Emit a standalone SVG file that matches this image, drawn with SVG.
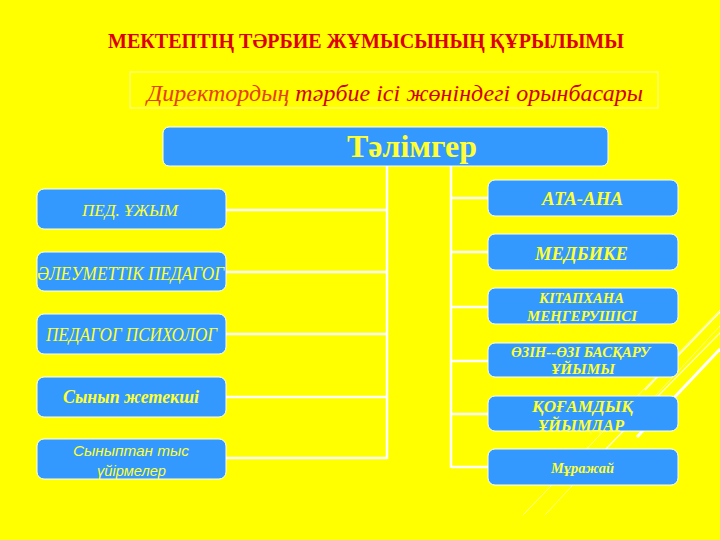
<svg xmlns="http://www.w3.org/2000/svg" width="720" height="540" viewBox="0 0 720 540">
<style>
.box{fill:#3399FF;stroke:#FFFFFF;stroke-width:1}
.t{font-family:"Liberation Serif","Times New Roman",serif;fill:#FFFF33}
.i{font-style:italic}
.b{font-weight:bold}
.s{font-family:"Liberation Sans",Arial,sans-serif;font-style:italic;fill:#FFFF33}
.c{stroke:#FFFFFF;stroke-width:2.5;fill:none}
.d{stroke:#FFFFFF;fill:none}
</style>
<rect x="0" y="0" width="720" height="540" fill="#FFFF00"/>
<g id="decoration">
<line class="d" x1="523" y1="515" x2="720" y2="310" stroke-width="1" opacity="0.6"/>
<line class="d" x1="545" y1="515" x2="720" y2="326" stroke-width="1" opacity="0.5"/>
<line class="d" x1="600" y1="455" x2="720" y2="333" stroke-width="1.2" opacity="0.8"/>
<line class="d" x1="637" y1="437" x2="720" y2="349" stroke-width="3"/>
<line class="d" x1="645" y1="390" x2="720" y2="312" stroke-width="1.5" opacity="0.9"/>
</g>
<text x="108" y="48" textLength="516" lengthAdjust="spacingAndGlyphs" font-family="Liberation Serif, Times New Roman, serif" font-weight="bold" font-size="20" fill="#DD0000">МЕКТЕПТІҢ ТӘРБИЕ ЖҰМЫСЫНЫҢ ҚҰРЫЛЫМЫ</text>
<g id="deputy">
<rect x="130" y="72" width="528" height="36" fill="none" stroke="#FFFF99" stroke-width="1"/>
<text x="147" y="101" textLength="496" lengthAdjust="spacingAndGlyphs" font-family="Liberation Serif, Times New Roman, serif" font-style="italic" font-size="24"><tspan fill="#E8400A">Директордың</tspan><tspan fill="#D40000"> тәрбие ісі жөніндегі орынбасары</tspan></text>
</g>
<g id="connectors">
<line class="c" x1="387" y1="166" x2="387" y2="459"/>
<line class="c" x1="226" y1="210" x2="387" y2="210"/>
<line class="c" x1="226" y1="272" x2="387" y2="272"/>
<line class="c" x1="226" y1="334" x2="387" y2="334"/>
<line class="c" x1="226" y1="397" x2="387" y2="397"/>
<line class="c" x1="226" y1="458" x2="387" y2="458"/>
<line class="c" x1="451" y1="166" x2="451" y2="468"/>
<line class="c" x1="451" y1="198" x2="488" y2="198"/>
<line class="c" x1="451" y1="252" x2="488" y2="252"/>
<line class="c" x1="451" y1="307" x2="488" y2="307"/>
<line class="c" x1="451" y1="361" x2="488" y2="361"/>
<line class="c" x1="451" y1="414" x2="488" y2="414"/>
<line class="c" x1="451" y1="467" x2="488" y2="467"/>
</g>
<g id="mentor">
<rect class="box" x="163" y="127" width="445" height="39" rx="6"/>
<text class="t b" x="347" y="157" textLength="130" lengthAdjust="spacingAndGlyphs" font-size="32">Тәлімгер</text>
</g>
<g id="ped-uzhym">
<rect class="box" x="37" y="189" width="189" height="40" rx="7"/>
<text class="t i" x="82" y="216" textLength="96" lengthAdjust="spacingAndGlyphs" font-size="17">ПЕД. ҰЖЫМ</text>
</g>
<g id="aleumettik-pedagog">
<rect class="box" x="37" y="252" width="189" height="39" rx="7"/>
<text class="t i" x="37" y="280" textLength="187" lengthAdjust="spacingAndGlyphs" font-size="19">ӘЛЕУМЕТТІК ПЕДАГОГ</text>
</g>
<g id="pedagog-psiholog">
<rect class="box" x="37" y="314" width="189" height="40" rx="7"/>
<text class="t i" x="46" y="341" textLength="171" lengthAdjust="spacingAndGlyphs" font-size="18">ПЕДАГОГ ПСИХОЛОГ</text>
</g>
<g id="synyp-zhetekshi">
<rect class="box" x="37" y="377" width="189" height="40" rx="7"/>
<text class="t i b" x="63" y="403" textLength="136" lengthAdjust="spacingAndGlyphs" font-size="18">Сынып жетекші</text>
</g>
<g id="uiirmeler">
<rect class="box" x="37" y="439" width="189" height="40" rx="7"/>
<text class="s" x="73" y="456" textLength="116" lengthAdjust="spacingAndGlyphs" font-size="15">Сыныптан тыс</text>
<text class="s" x="97" y="476" textLength="69" lengthAdjust="spacingAndGlyphs" font-size="15">үйірмелер</text>
</g>
<g id="ata-ana">
<rect class="box" x="488" y="180" width="190" height="36" rx="7"/>
<text class="t i b" x="542" y="205" textLength="81" lengthAdjust="spacingAndGlyphs" font-size="19">АТА-АНА</text>
</g>
<g id="medbike">
<rect class="box" x="488" y="234" width="190" height="36" rx="7"/>
<text class="t i b" x="535" y="260" textLength="93" lengthAdjust="spacingAndGlyphs" font-size="19">МЕДБИКЕ</text>
</g>
<g id="kitaphana">
<rect class="box" x="488" y="288" width="190" height="36" rx="7"/>
<text class="t i b" x="539" y="303" textLength="85" lengthAdjust="spacingAndGlyphs" font-size="15">КІТАПХАНА</text>
<text class="t i b" x="527" y="321" textLength="110" lengthAdjust="spacingAndGlyphs" font-size="15">МЕҢГЕРУШІСІ</text>
</g>
<g id="ozin-ozi">
<rect class="box" x="488" y="343" width="190" height="34" rx="7"/>
<text class="t i b" x="511" y="357" textLength="139" lengthAdjust="spacingAndGlyphs" font-size="15">ӨЗІН--ӨЗІ БАСҚАРУ</text>
<text class="t i b" x="551" y="374" textLength="64" lengthAdjust="spacingAndGlyphs" font-size="15">ҰЙЫМЫ</text>
</g>
<g id="qogamdyq">
<rect class="box" x="488" y="396" width="190" height="35" rx="7"/>
<text class="t i b" x="532" y="412" textLength="101" lengthAdjust="spacingAndGlyphs" font-size="16">ҚОҒАМДЫҚ</text>
<text class="t i b" x="538" y="431" textLength="86" lengthAdjust="spacingAndGlyphs" font-size="16">ҰЙЫМДАР</text>
</g>
<g id="murazhai">
<rect class="box" x="488" y="449" width="190" height="36" rx="7"/>
<text class="t i b" x="551" y="473" textLength="63" lengthAdjust="spacingAndGlyphs" font-size="15">Мұражай</text>
</g>
</svg>
